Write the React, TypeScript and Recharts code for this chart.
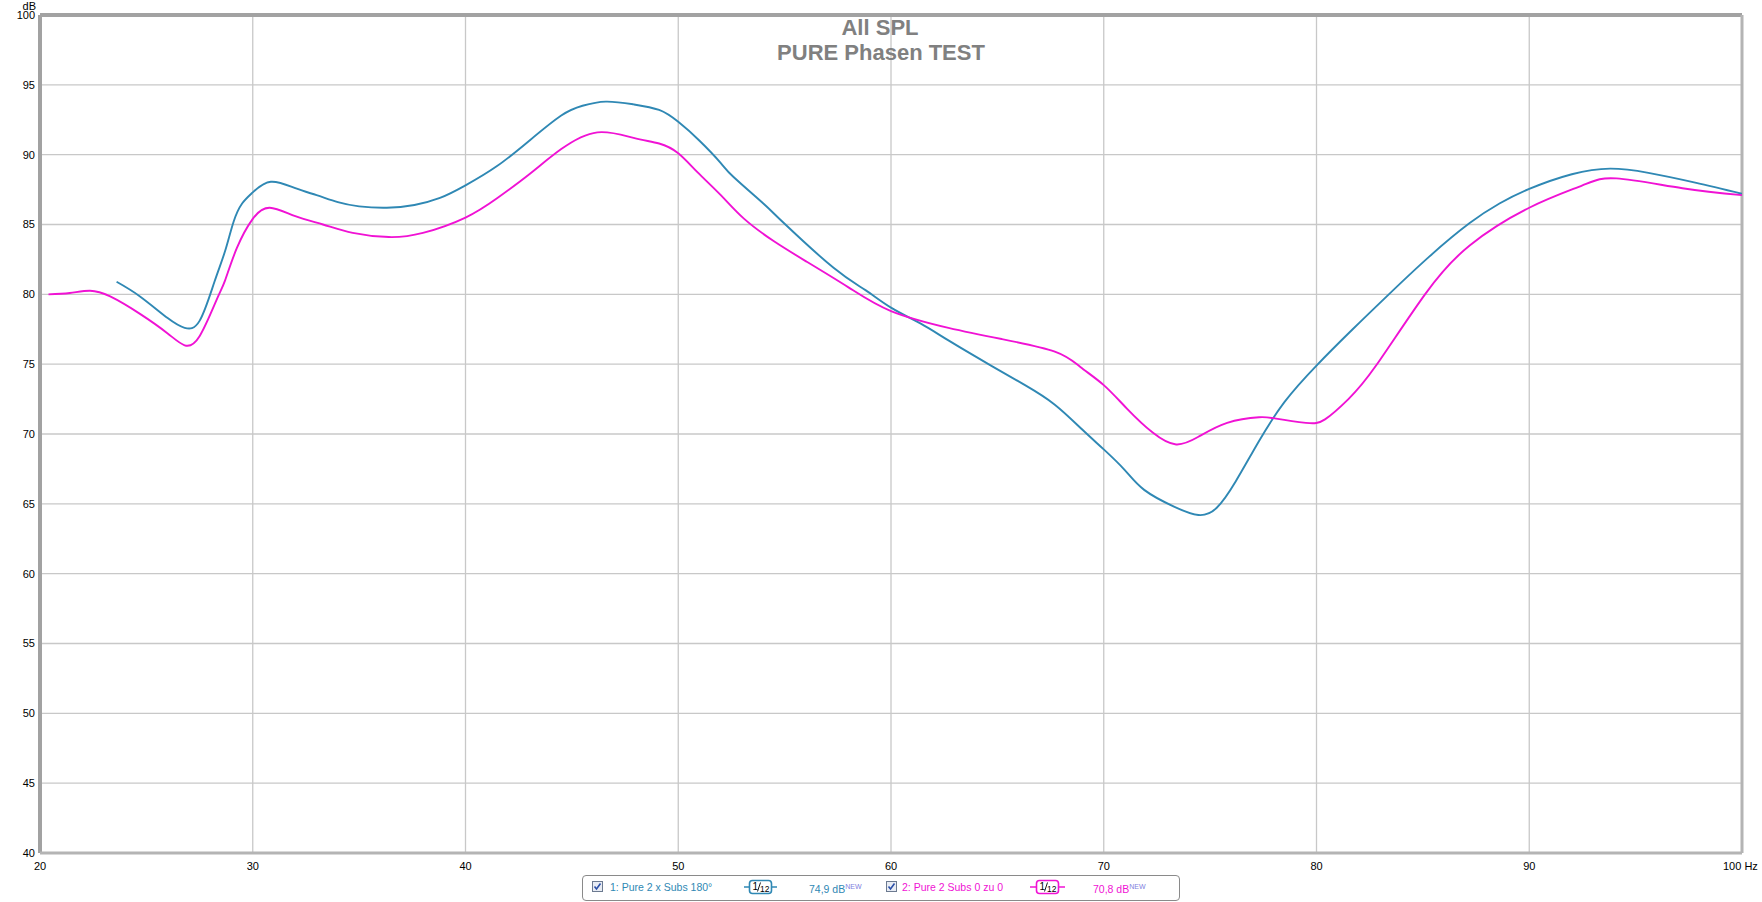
import React from "react";
import { CartesianGrid, Line, LineChart, ReferenceLine, XAxis, YAxis } from "recharts";

// series 1: Pure 2 x Subs 180°
const blueFreq = [
  23.6, 24.7, 26.0, 26.8, 27.5, 28.2, 28.7, 29.1, 29.5, 30.0, 30.85, 32.0, 33.0, 34.0, 35.0, 36.3,
  37.6, 38.8, 40.0, 41.5, 43.0, 44.5, 45.5, 46.6, 47.9, 49.1, 50.0, 51.0, 52.0, 52.6, 54.0, 55.0,
  57.3, 58.8, 60.0, 61.4, 62.7, 64.7, 66.3, 67.7, 69.0, 70.0, 71.0, 71.9, 73.3, 74.45, 75.3, 76.2,
  77.3, 78.5, 80.0, 81.7, 83.4, 85.3, 87.2, 88.6, 90.0, 92.0, 93.8, 95.6, 97.8, 100,
];
const blueDb = [
  80.9, 79.85, 78.3, 77.6, 78.1, 80.9, 83.1, 85.2, 86.5, 87.3, 88.06, 87.6, 87.1, 86.6, 86.3, 86.2,
  86.4, 86.9, 87.8, 89.2, 91.0, 92.8, 93.5, 93.8, 93.6, 93.2, 92.35, 91.0, 89.4, 88.4, 86.5, 85.05,
  81.9, 80.3, 79.05, 77.9, 76.7, 74.9, 73.5, 72.1, 70.3, 68.9, 67.4, 66.0, 64.8, 64.2, 64.7, 66.6,
  69.5, 72.3, 74.9, 77.5, 80.0, 82.7, 85.1, 86.5, 87.55, 88.6, 89.0, 88.7, 88.0, 87.2,
];

// series 2: Pure 2 Subs 0 zu 0
const pinkFreq = [
  20.4, 21.4, 22.35, 23.3, 24.7, 26.0, 26.8, 27.5, 28.3, 28.7, 29.25, 30.0, 30.8, 32.0, 33.3, 34.7,
  36.4, 38.0, 40.0, 41.5, 43.0, 44.5, 46.2, 47.9, 49.1, 50.0, 50.9, 52.0, 53.1, 54.5, 55.97, 58.0,
  60.0, 62.7, 65.2, 67.7, 68.9, 70.0, 71.1, 72.3, 73.4, 74.45, 75.8, 77.3, 78.1, 79.5, 80.4, 81.5,
  82.8, 85.1, 87.2, 90.0, 92.5, 94.1, 97.2, 100,
];
const pinkDb = [
  80.0, 80.1, 80.26, 79.85, 78.6, 77.2, 76.35, 77.0, 79.6, 81.0, 83.3, 85.4, 86.2, 85.6, 85.0, 84.4,
  84.1, 84.4, 85.5, 86.9, 88.6, 90.4, 91.6, 91.2, 90.8, 90.1, 88.75, 87.1, 85.4, 83.8, 82.4, 80.5,
  78.8, 77.6, 76.8, 75.9, 74.8, 73.5, 71.8, 70.1, 69.25, 69.8, 70.8, 71.2, 71.1, 70.8, 71.05, 72.5,
  74.9, 80.0, 83.5, 86.2, 87.8, 88.3, 87.6, 87.1,
];

const xTicks = [20, 30, 40, 50, 60, 70, 80, 90, 100];
const yTicks = [40, 45, 50, 55, 60, 65, 70, 75, 80, 85, 90, 95, 100];

const BLUE = "#2f88b4";
const PINK = "#f012d4";
const FONT = "'Liberation Sans', Arial, sans-serif";

const blueData = blueFreq.map((f, i) => ({ f, db: blueDb[i] }));
const pinkData = pinkFreq.map((f, i) => ({ f, db: pinkDb[i] }));

const XTick = (props: any) => {
  const { x, y, payload } = props;
  if (payload.value === 100) {
    return (
      <text x={x - 19} y={y} dy="0.71em" textAnchor="start" fontSize={11} fontFamily={FONT} fill="#000">
        100 Hz
      </text>
    );
  }
  return (
    <text x={x} y={y} dy="0.71em" textAnchor="middle" fontSize={11} fontFamily={FONT} fill="#000">
      {payload.value}
    </text>
  );
};

const CheckBox = () => (
  <svg width={11} height={11} style={{ display: "block" }}>
    <rect x={0.5} y={0.5} width={10} height={10} fill="#e8ecf4" stroke="#6c7a90" />
    <path d="M2.5 5.5 L4.5 8 L8.5 2.5" fill="none" stroke="#2b4fa8" strokeWidth={1.6} />
  </svg>
);

const SmoothIcon = ({ color, width }: { color: string; width: number }) => {
  const bx = (width - 22) / 2;
  return (
    <svg width={width} height={16} style={{ display: "block" }}>
      <line x1={0} y1={8} x2={width} y2={8} stroke={color} strokeWidth={1.5} />
      <rect x={bx} y={1.5} width={22} height={13} rx={3} fill="#fff" stroke={color} strokeWidth={1.6} />
      <text x={bx + 3} y={11} fontSize={10} fontFamily={FONT} fill="#000">1</text>
      <line x1={bx + 11} y1={3.5} x2={bx + 8} y2={12.5} stroke="#000" strokeWidth={0.9} />
      <text x={bx + 10.5} y={12.5} fontSize={8.5} fontFamily={FONT} fill="#000">12</text>
    </svg>
  );
};

const abs = (left: number, top: number): React.CSSProperties => ({ position: "absolute", left, top });

const Legend = () => (
  <div
    style={{
      position: "absolute",
      left: 582,
      top: 875,
      width: 598,
      height: 26,
      boxSizing: "border-box",
      border: "1px solid #8a8a8a",
      borderRadius: 4,
      background: "#fff",
      fontFamily: FONT,
      fontSize: 10.5,
      lineHeight: "14px",
      whiteSpace: "nowrap",
    }}
  >
    <div style={abs(9, 5)}><CheckBox /></div>
    <div style={{ ...abs(27, 4), color: BLUE }}>1: Pure 2 x Subs 180°</div>
    <div style={abs(161, 3)}><SmoothIcon color={BLUE} width={33} /></div>
    <div style={{ ...abs(226, 4), color: BLUE }}>
      74,9 dB<sup style={{ fontSize: 7, color: "#8080e0", verticalAlign: 4 }}>NEW</sup>
    </div>
    <div style={abs(303, 5)}><CheckBox /></div>
    <div style={{ ...abs(319, 4), color: PINK }}>2: Pure 2 Subs 0 zu 0</div>
    <div style={abs(447, 3)}><SmoothIcon color={PINK} width={35} /></div>
    <div style={{ ...abs(510, 4), color: PINK }}>
      70,8 dB<sup style={{ fontSize: 7, color: "#8080e0", verticalAlign: 4 }}>NEW</sup>
    </div>
  </div>
);

const titleStyle = (top: number): React.CSSProperties => ({
  position: "absolute",
  left: 680,
  top,
  width: 400,
  textAlign: "center",
  fontFamily: FONT,
  fontSize: 22,
  fontWeight: "bold",
  lineHeight: "22px",
  color: "#808080",
});

export default function App() {
  return (
    <div style={{ position: "absolute", left: 0, top: 0, width: 1762, height: 902, background: "#fff" }}>
      <LineChart width={1762} height={902} margin={{ top: 15, right: 20, left: 0, bottom: 29 }}>
        <CartesianGrid stroke="#c8c8c8" strokeWidth={1.3} />
        <XAxis
          dataKey="f"
          type="number"
          domain={[20, 100]}
          ticks={xTicks}
          allowDataOverflow
          axisLine={false}
          tickLine={false}
          tickSize={0}
          tickMargin={9}
          height={20}
          tick={<XTick />}
          interval={0}
        />
        <YAxis
          dataKey="db"
          type="number"
          domain={[40, 100]}
          ticks={yTicks}
          allowDataOverflow
          axisLine={false}
          tickLine={false}
          tickSize={0}
          tickMargin={5}
          width={40}
          interval={0}
          tick={{ fontSize: 11, fontFamily: FONT, fill: "#000" }}
        />
        <ReferenceLine y={100} stroke="#a2a2a2" strokeWidth={4} />
        <ReferenceLine x={20} stroke="#a2a2a2" strokeWidth={4} />
        <ReferenceLine x={100} stroke="#b4b4b4" strokeWidth={3} />
        <ReferenceLine y={40} stroke="#b4b4b4" strokeWidth={3} />
        <Line
          data={blueData}
          dataKey="db"
          type="natural"
          stroke={BLUE}
          strokeWidth={1.9}
          dot={false}
          activeDot={false}
          isAnimationActive={false}
        />
        <Line
          data={pinkData}
          dataKey="db"
          type="natural"
          stroke={PINK}
          strokeWidth={1.9}
          dot={false}
          activeDot={false}
          isAnimationActive={false}
        />
      </LineChart>
      <div
        style={{
          position: "absolute",
          left: 0,
          top: 0,
          width: 36,
          textAlign: "right",
          fontFamily: FONT,
          fontSize: 11,
          lineHeight: "12px",
        }}
      >
        dB
      </div>
      <div style={titleStyle(17)}>All SPL</div>
      <div style={{ ...titleStyle(42), left: 681 }}>PURE Phasen TEST</div>
      <Legend />
    </div>
  );
}
